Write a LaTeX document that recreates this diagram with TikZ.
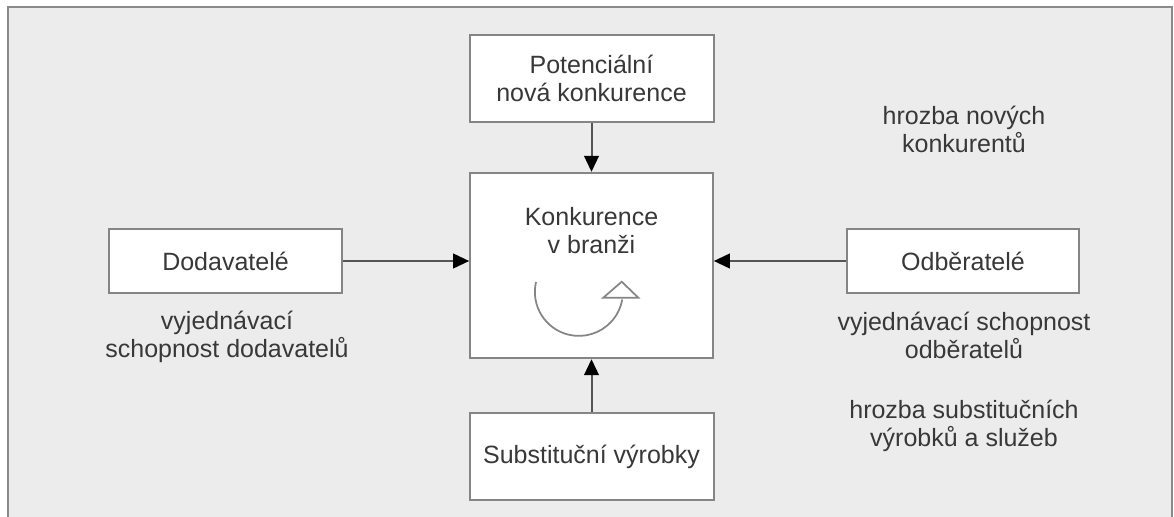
\documentclass[tikz,border=0pt]{standalone}
\usepackage{fontspec}
\setmainfont{Liberation Sans}
\usetikzlibrary{arrows.meta}
\definecolor{bgfill}{HTML}{ECECEC}
\definecolor{framecol}{HTML}{8A8A8A}
\definecolor{boxline}{HTML}{858585}
\definecolor{arrline}{HTML}{555555}
\definecolor{txt}{HTML}{383838}
\tikzset{
  every node/.style={font=\fontsize{18.75}{21}\selectfont, text=txt, inner sep=0pt},
  fbox/.style={draw=boxline, line width=1.5pt, fill=white, align=center},
  conn/.style={draw=arrline, line width=1.5pt, -{Triangle[length=12pt,width=11pt,color=black]}},
  note/.style={align=center},
}
\begin{document}
\begin{tikzpicture}[x=0.75pt,y=-0.75pt]
\useasboundingbox (0,0) rectangle (1174,517);
\clip (0,0) rectangle (1174,517);
\fill[white] (0,0) rectangle (1174,517);
\draw[framecol, line width=1.5pt, fill=bgfill] (8,7) rectangle (1172,560);

% boxes
\node[fbox, minimum width=183pt, minimum height=65pt] (pot) at (591.5,78.5) {Potenciální\\nová konkurence};
\node[fbox, minimum width=182pt, minimum height=139pt] (kb) at (591.5,265.5) {};
\node[note] (kbt) at (591.5,230.5) {Konkurence\\v branži};
\node[fbox, minimum width=183pt, minimum height=65pt] (sub) at (591.5,456.5) {Substituční výrobky};
\node[fbox, minimum width=175pt, minimum height=48pt] (dod) at (225.5,261) {Dodavatelé};
\node[fbox, minimum width=174pt, minimum height=48pt] (odb) at (963,261) {Odběratelé};

% connectors
\draw[conn] (pot.south) -- (kb.north);
\draw[conn] (sub.north) -- (kb.south);
\draw[conn] (dod.east) -- (dod.east -| kb.west);
\draw[conn] (odb.west) -- (odb.west -| kb.east);

% notes
\node[note] (n1) at (227,336.5) {vyjednávací\\schopnost dodavatelů};
\node[note] (n2) at (964,335) {vyjednávací schopnost\\odběratelů};
\node[note] (n3) at (964,426) {hrozba substitučních\\výrobků a služeb};
\node[note] (n4) at (964,129) {hrozba nových\\konkurentů};

% rotation symbol
\draw[boxline, line width=1.3pt] (536,282) arc[start angle=193, end angle=10, radius=44];
\draw[boxline, line width=1.3pt, fill=white] (621.7,281.7) -- (638.3,297.7) -- (603.3,297.7) -- cycle;
\end{tikzpicture}
\end{document}
